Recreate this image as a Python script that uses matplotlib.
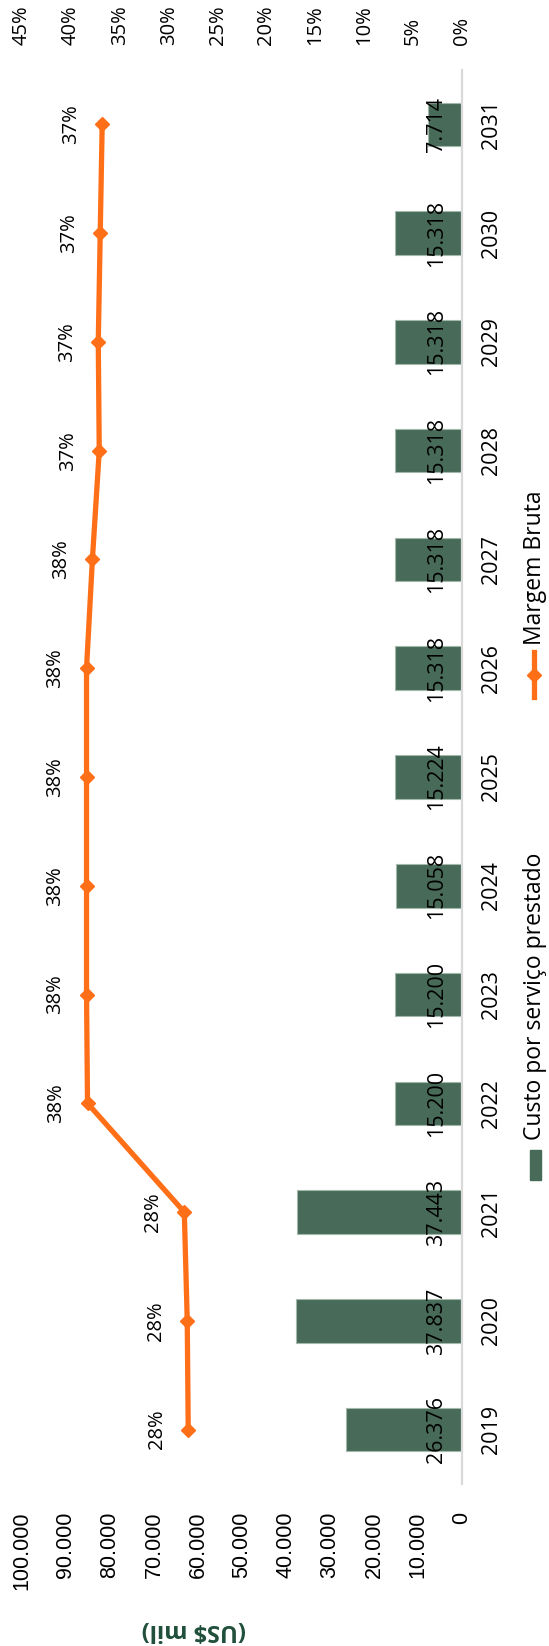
import matplotlib
matplotlib.use("Agg")
import matplotlib.pyplot as plt
from matplotlib.lines import Line2D
from matplotlib.patches import Rectangle

plt.rcParams["font.family"] = ["Open Sans", "DejaVu Sans"]

# dados do gráfico
anos = ["2019", "2020", "2021", "2022", "2023", "2024", "2025",
        "2026", "2027", "2028", "2029", "2030", "2031"]
custo = [26376, 37837, 37443, 15200, 15200, 15058, 15224,
         15318, 15318, 15318, 15318, 15318, 7714]
margem = [28.0, 28.1, 28.4, 38.3, 38.4, 38.4, 38.4,
          38.4, 37.8, 37.1, 37.2, 37.0, 36.8]
ticks_valor = [0, 10000, 20000, 30000, 40000, 50000,
               60000, 70000, 80000, 90000, 100000]
ticks_pct = [0, 5, 10, 15, 20, 25, 30, 35, 40, 45]

VERDE = "#476B58"
LARANJA = "#FF6F17"

W, H = 549, 1646
fig = plt.figure(figsize=(W / 100, H / 100), dpi=100)

# gráfico girado: anos na vertical, valores crescendo para a esquerda
ax = fig.add_axes([22 / W, 1 - 1484 / H, 440 / W, 1414 / H])
pos = list(range(len(anos)))

ax.barh(pos, custo, height=0.40, color=VERDE, edgecolor="#A3B8AB", linewidth=0.8)
ax.set_xlim(100000, 0)
ax.set_ylim(-0.5, len(anos) - 0.5)

ax.set_xticks(ticks_valor)
ax.set_xticklabels([f"{v:,}".replace(",", ".") for v in ticks_valor],
                   family=["Liberation Sans", "DejaVu Sans"], fontsize=15.5)
ax.tick_params(axis="x", length=0, pad=20, labelrotation=90)

ax.yaxis.tick_right()
ax.set_yticks(pos)
ax.set_yticklabels(anos, fontsize=15.5, rotation=90, va="center")
ax.tick_params(axis="y", length=0, pad=14)

for s in ("left", "top", "bottom"):
    ax.spines[s].set_visible(False)
ax.spines["right"].set_color("#D9D9D9")
ax.spines["right"].set_linewidth(1.6)

for i, v in enumerate(custo):
    ax.annotate(f"{v:,}".replace(",", "."), (0, i), xytext=(-18, 0),
                textcoords="offset points", rotation=90,
                ha="center", va="center", fontsize=15.5)

# eixo secundário: margem bruta em %
ax2 = ax.twiny()
ax2.plot([m / 100 for m in margem], pos, color=LARANJA, lw=3.8,
         marker="D", ms=7, mec=LARANJA, solid_capstyle="round")
ax2.set_xlim(0.45, 0)
ax2.set_xticks([t / 100 for t in ticks_pct])
ax2.set_xticklabels([f"{t}%" for t in ticks_pct], fontsize=14.5)
ax2.tick_params(axis="x", length=0, pad=18, labelrotation=90)
for s in ax2.spines.values():
    s.set_visible(False)

for i, m in enumerate(margem):
    ax2.annotate(f"{round(m)}%", (m / 100, i), xytext=(-22.3, 0),
                 textcoords="offset points", rotation=90,
                 ha="center", va="center", fontsize=14.5)

fig.text(194 / W, 1 - 1630 / H, "(US$ mil)", rotation=180, ha="center",
         va="center", fontsize=17, fontweight="bold", color="#1F4E3A")

# legenda desenhada à mão, na vertical
fig.patches.append(Rectangle((530 / W, 1 - 1180 / H), 11 / W, 30 / H,
                             transform=fig.transFigure, color=VERDE))
fig.text(535 / W, 1 - 1140 / H, "Custo por serviço prestado", rotation=90,
         ha="center", va="bottom", fontsize=16.5)
fig.add_artist(Line2D([534 / W, 534 / W], [1 - 697 / H, 1 - 652 / H],
                      transform=fig.transFigure, color=LARANJA, lw=3.8))
fig.add_artist(Line2D([534 / W], [1 - 675 / H], transform=fig.transFigure,
                      color=LARANJA, marker="D", ms=7, lw=0))
fig.text(535 / W, 1 - 645 / H, "Margem Bruta", rotation=90,
         ha="center", va="bottom", fontsize=16.5)

fig.savefig("out.png", dpi=100)
